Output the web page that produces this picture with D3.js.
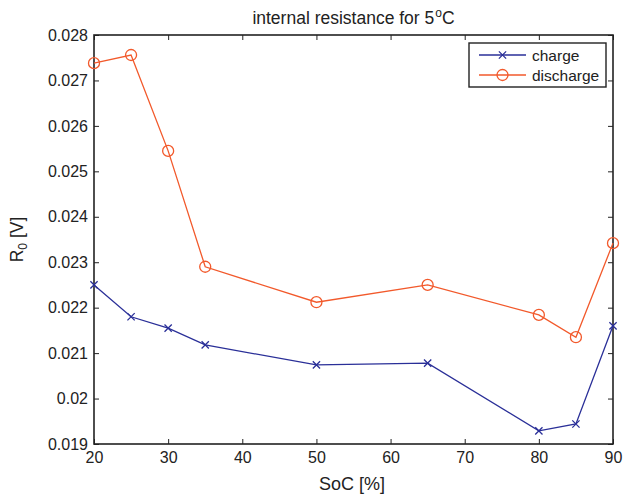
<!DOCTYPE html>
<html>
<head>
<meta charset="utf-8">
<script src="https://cdn.jsdelivr.net/npm/d3@7"></script>
<style>
  body { margin: 0; background: #fff; }
  text { font-family: "Liberation Sans", Arial, sans-serif; fill: #222; }
</style>
</head>
<body>
<script>
// state of charge values
var soc = [20, 25, 30, 35, 50, 65, 80, 85, 90];
var charge = [0.02250, 0.02180, 0.02155, 0.02118, 0.02074, 0.02078, 0.01929, 0.01944, 0.02160];
var discharge = [0.02738, 0.02756, 0.02545, 0.02290, 0.02212, 0.02250, 0.02184, 0.02135, 0.02342];
var xTicks = [20, 30, 40, 50, 60, 70, 80, 90];
var yTicks = [0.019, 0.02, 0.021, 0.022, 0.023, 0.024, 0.025, 0.026, 0.027, 0.028];

var blue = "#2a2f98", red = "#f2592b";

var svg = d3.select("body").append("svg")
    .attr("width", 623)
    .attr("height", 494);

var mLeft = 94, mRight = 613, mTop = 35, mBottom = 444;

var x = d3.scaleLinear().domain([20, 90]).range([mLeft, mRight]);
var y = d3.scaleLinear().domain([0.019, 0.028]).range([mBottom, mTop]);

// ticks pointing inward on all four sides
svg.append("g")
    .attr("transform", "translate(0," + mBottom + ")")
    .call(d3.axisBottom(x).tickValues(xTicks).tickSize(-5).tickPadding(8).tickFormat(d3.format("d")))
    .call(function (g) { g.select(".domain").remove(); });
svg.append("g")
    .attr("transform", "translate(0," + mTop + ")")
    .call(d3.axisTop(x).tickValues(xTicks).tickSize(-5).tickFormat(""))
    .call(function (g) { g.select(".domain").remove(); });
svg.append("g")
    .attr("transform", "translate(" + mLeft + ",0)")
    .call(d3.axisLeft(y).tickValues(yTicks).tickSize(-5).tickPadding(6).tickFormat(function (d) { return +d.toFixed(3); }))
    .call(function (g) { g.select(".domain").remove(); });
svg.append("g")
    .attr("transform", "translate(" + mRight + ",0)")
    .call(d3.axisRight(y).tickValues(yTicks).tickSize(-5).tickFormat(""))
    .call(function (g) { g.select(".domain").remove(); });

svg.selectAll(".tick line").attr("stroke", "#222").attr("stroke-width", 1);
svg.selectAll(".tick text").attr("font-size", 16).style("font-family", "'Liberation Sans', Arial, sans-serif").attr("fill", "#222");

svg.append("rect")
    .attr("x", mLeft).attr("y", mTop)
    .attr("width", mRight - mLeft).attr("height", mBottom - mTop)
    .attr("fill", "none").attr("stroke", "#222").attr("stroke-width", 1.6);

var line = d3.line()
    .x(function (d, i) { return x(soc[i]); })
    .y(function (d) { return y(d); });

svg.append("path").datum(discharge)
    .attr("d", line).attr("fill", "none").attr("stroke", red).attr("stroke-width", 1.3);
svg.append("path").datum(charge)
    .attr("d", line).attr("fill", "none").attr("stroke", blue).attr("stroke-width", 1.3);

svg.selectAll(".circ").data(discharge).enter().append("circle")
    .attr("cx", function (d, i) { return x(soc[i]); })
    .attr("cy", function (d) { return y(d); })
    .attr("r", 5.5)
    .attr("fill", "none").attr("stroke", red).attr("stroke-width", 1.3);

var cross = d3.symbol().type(d3.symbolX).size(36);
svg.selectAll(".cross").data(charge).enter().append("path")
    .attr("d", cross)
    .attr("transform", function (d, i) { return "translate(" + x(soc[i]) + "," + y(d) + ")"; })
    .attr("fill", "none").attr("stroke", blue).attr("stroke-width", 1.3);

// title
var title = svg.append("text")
    .attr("x", (mLeft + mRight) / 2).attr("y", 24)
    .attr("text-anchor", "middle").attr("font-size", 17.5);
title.append("tspan").text("internal resistance for 5");
title.append("tspan").attr("font-size", 12).attr("dy", -7).attr("dx", 1).text("o");
title.append("tspan").attr("dy", 7).text("C");

// axis labels
svg.append("text")
    .attr("x", 352).attr("y", 490)
    .attr("text-anchor", "middle").attr("font-size", 18)
    .text("SoC [%]");

var ylab = svg.append("text")
    .attr("transform", "translate(23," + ((mTop + mBottom) / 2) + ") rotate(-90)")
    .attr("text-anchor", "middle").attr("font-size", 17.5);
ylab.append("tspan").text("R");
ylab.append("tspan").attr("font-size", 12).attr("dy", 4).text("0");
ylab.append("tspan").attr("dy", -4).text(" [V]");

// legend
var lg = svg.append("g");
lg.append("rect")
    .attr("x", 469).attr("y", 43).attr("width", 137).attr("height", 44)
    .attr("fill", "#fff").attr("stroke", "#222").attr("stroke-width", 1.4);
var items = [{ name: "charge", color: blue, mark: "x" }, { name: "discharge", color: red, mark: "o" }];
items.forEach(function (it, i) {
    var cy = 55 + i * 20;
    lg.append("line").attr("x1", 479).attr("x2", 526).attr("y1", cy).attr("y2", cy)
        .attr("stroke", it.color).attr("stroke-width", 1.3);
    if (it.mark === "x") {
        lg.append("path").attr("d", cross).attr("transform", "translate(502.5," + cy + ")")
            .attr("fill", "none").attr("stroke", it.color).attr("stroke-width", 1.3);
    } else {
        lg.append("circle").attr("cx", 502.5).attr("cy", cy).attr("r", 5.5)
            .attr("fill", "none").attr("stroke", it.color).attr("stroke-width", 1.3);
    }
    lg.append("text").attr("x", 532).attr("y", cy + 5.5).attr("font-size", 15.5).text(it.name);
});
</script>
</body>
</html>
